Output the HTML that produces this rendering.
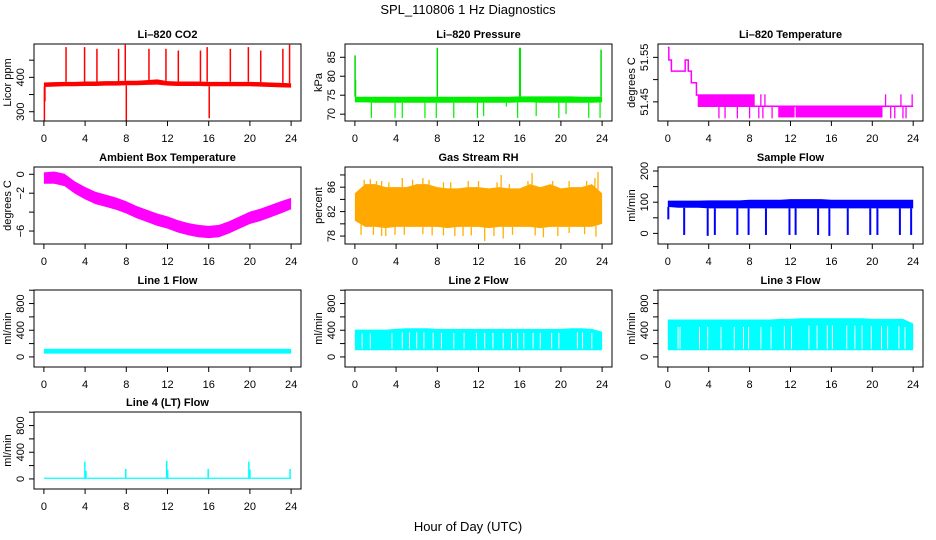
<!DOCTYPE html>
<html><head><meta charset="utf-8"><style>
html,body{margin:0;padding:0;background:#fff}
svg{display:block}
text{font-family:"Liberation Sans",sans-serif;fill:#000}
</style></head><body>
<svg id="chart" width="936" height="540" viewBox="0 0 936 540" xmlns="http://www.w3.org/2000/svg">
<defs></defs>
<text x="468" y="14" text-anchor="middle" font-size="13">SPL_110806  1 Hz Diagnostics</text>
<text x="468" y="531" text-anchor="middle" font-size="13">Hour of Day (UTC)</text>
</svg>
<script>
const hours = [0,1,2,3,4,5,6,7,8,9,10,11,12,13,14,15,16,17,18,19,20,21,22,23,24];
const xTicks = [0,4,8,12,16,20,24];
// CO2
const co2Lo = [372,373,374,374,375,375,376,376,377,377,378,379,376,375,375,375,374,374,374,374,374,373,372,371,370];
const co2Hi = [385,386,387,387,388,388,389,389,390,390,392,394,389,388,388,388,387,387,387,387,387,386,385,384,383];
const co2SpikeHours = [2.15,3.95,5.15,7.25,7.9,10.2,11.85,13.05,15.2,15.85,18.1,19.85,21.05,23.2,23.85];
const co2SpikeVals = [488,488,483,483,495,483,483,478,478,488,483,488,478,483,495];
const co2DipHours = [0.05,0.1,8.0,16.05];
const co2DipVals = [273,330,272,281];
// Pressure
const presLo = [73.1,73.1,73.0,73.0,73.0,73.0,73.0,73.0,73.0,73.0,73.0,73.0,73.0,73.0,73.0,73.0,73.1,73.1,73.0,73.0,73.0,73.0,73.0,73.0,73.1];
const presHi = [74.6,74.6,74.6,74.6,74.6,74.6,74.6,74.6,74.6,74.6,74.6,74.6,74.6,74.6,74.6,74.6,74.7,74.7,74.7,74.7,74.7,74.7,74.6,74.6,74.6];
const presSpikeHours = [0.02,0.06,8.0,16.0,16.05,23.9];
const presSpikeVals = [85.5,79,87.5,87.5,87.5,87];
const presDipHours = [1.6,3.9,4.6,6.8,7.9,9.6,11.9,12.5,14.7,15.8,17.6,19.8,20.5,22.7,23.8];
const presDipVals = [69,69,69,69,69,69,69,69.5,72,69,69.5,69,70,69,69];
// Li-820 temperature
const tempStepHours = [0,0.1,0.35,1.7,2.0,2.3,2.8,3.0];
const tempStepVals = [51.572,51.544,51.519,51.544,51.519,51.493,51.465,51.44];
const tempBandStart = [3.0,10.8,12.5];
const tempBandEnd = [8.5,12.4,21.0];
const tempBandLo = [51.439,51.415,51.415];
const tempBandHi = [51.467,51.439,51.439];
const tempSpikeHours = [5.0,5.6,6.8,8.0,8.9,9.1,9.3,9.5,10.2,21.3,21.8,22.2,22.8,23.0,23.3,23.9];
const tempSpikeVals = [51.413,51.413,51.413,51.413,51.413,51.467,51.413,51.467,51.413,51.467,51.413,51.413,51.467,51.413,51.413,51.467];
// Ambient box temperature
const ambCenter = [-0.4,-0.35,-0.6,-1.4,-2.0,-2.5,-2.8,-3.1,-3.5,-4.0,-4.4,-4.8,-5.1,-5.5,-5.8,-6.0,-6.1,-6.0,-5.6,-5.1,-4.6,-4.3,-3.9,-3.5,-3.1];
const ambHalf = [0.6,0.65,0.65,0.65,0.65,0.65,0.65,0.65,0.65,0.65,0.65,0.65,0.65,0.65,0.65,0.65,0.65,0.65,0.65,0.65,0.65,0.65,0.65,0.65,0.6];
// Gas stream RH
const rhLo = [80.5,79.5,79.5,79.3,79.5,79.5,79.5,79.5,79.5,79.3,79.5,79.5,79.5,79.3,79.5,79.5,79.5,79.5,79.3,79.5,79.5,79.5,79.5,79.5,80];
const rhHi = [85,86.5,86.5,86,86,86,86.5,86.5,86,85.8,85.8,86,86,85.8,86,85.8,85.8,86.5,86,86.5,85.8,86,86,86.5,85];
const rhSpikeHours = [0.9,1.5,2.1,2.6,3.3,4.6,5.6,6.6,7.2,8.6,9.3,11.0,12.0,13.8,14.2,15.0,16.8,17.2,19.2,20.8,22.5,23.3,23.6];
const rhSpikeVals = [87.2,87.3,87,87,86.8,87.5,87.2,87.5,87.2,86.8,86.8,87,87,86.8,88,86.5,87,88.3,87,87,87,87.5,88.5];
const rhDipHours = [0.6,1.8,2.6,3.0,3.9,4.8,6.6,7.5,8.6,9.7,10.5,11.3,12.6,13.5,14.4,15.3,17.5,18.3,19.7,20.8,22.3,23.4];
const rhDipVals = [78.2,78.2,78,78,78.2,78.2,78.3,78.1,78.1,78,78,78.1,77.2,78,77.6,78.2,78.1,77.8,78,78.5,78.3,77.9];
// Sample flow
const sfLo = [85,82,82,82,80,80,80,80,80,80,80,80,80,80,80,80,80,80,80,80,80,80,80,80,80];
const sfHi = [105,105,105,105,106,106,106,106,108,108,108,108,110,110,110,110,108,108,108,108,108,108,108,108,108];
const sfDipHours = [0.05,1.6,3.9,4.6,6.8,7.9,9.6,11.9,12.5,14.7,15.8,17.6,19.8,20.5,22.7,23.8];
const sfDipVals = [45,-5,-8,-5,-5,-5,-5,-5,-5,-5,-8,-5,-5,-5,-5,-5];
// Line flows
const l1Lo = [50,50,50,50,50,50,50,50,50,50,50,50,50,50,50,50,50,50,50,50,50,50,50,50,50];
const l1Hi = [120,120,120,120,120,120,120,120,120,120,120,120,120,120,120,120,120,120,120,120,120,120,120,120,120];
const l2Lo = [100,100,100,100,100,100,100,100,100,100,100,100,100,100,100,100,100,100,100,100,100,100,100,100,100];
const l2Hi = [410,410,410,410,420,430,430,430,420,420,420,420,420,420,420,420,420,420,420,420,420,430,430,420,380];
const l2GapHours = [0.7,1.5,3.6,4.6,5.3,6.0,6.7,7.6,8.4,9.6,10.6,11.8,12.6,13.4,14.4,15.2,15.8,16.4,17.3,18.0,19.1,19.8,21.6,22.1,23.0];
const l3Lo = [100,100,100,100,100,100,100,100,100,100,100,100,100,100,100,100,100,100,100,100,100,100,100,100,100];
const l3Hi = [560,560,560,560,560,560,560,560,560,560,560,570,570,580,580,580,580,580,580,580,570,570,570,570,500];
const l3GapHours = [1.0,1.2,3.1,3.9,5.2,6.5,7.4,7.9,9.1,10.1,11.4,12.1,13.8,14.6,15.6,16.1,17.5,18.3,19.0,19.9,20.9,21.5,22.6,23.2];
const l4SpikeHours = [3.98,4.08,7.95,11.92,12.02,15.95,19.9,20.0,23.9];
const l4SpikeVals = [260,120,150,270,140,150,260,140,150];

const svg = document.getElementById('chart');
const NS = 'http://www.w3.org/2000/svg';
function mk(tag, attrs, parent){ const e=document.createElementNS(NS,tag); for(const k in attrs) e.setAttribute(k,attrs[k]); (parent||svg).appendChild(e); return e; }

const colL = [34,345,658], colR = [301,612,923];
const rowT = [44,167,290,412], H = 77;
const X0 = -0.96, X1 = 24.96;

function panel(col,row,ylim,yticks,ylabels,ytitle,title,name){
  const L=colL[col], R=colR[col], T=rowT[row], B=T+H;
  const g=mk('g',{});
  
  
  const p={g,L,R,T,B,
    x:v=>L+(v-X0)/(X1-X0)*(R-L),
    y:v=>B-(v-ylim[0])/(ylim[1]-ylim[0])*(B-T)};
  const data=mk('g',{'clip-path':'url(#clip-'+name+')'},g);
  const cp=mk('clipPath',{id:'clip-'+name},svg.querySelector('defs'));
  mk('rect',{x:L,y:T,width:R-L,height:H},cp);
  p.d=data;
  p.finish=function(){
    const bx=mk('rect',{x:L,y:T,width:R-L,height:H,fill:'none',stroke:'#000','stroke-width':1},g);
    
    
    const t=mk('text',{x:(L+R)/2,y:T-6,'text-anchor':'middle','font-size':11,'font-weight':'bold'},g);
    t.textContent=title;
    
    
    const xa=mk('g',{},g);
    
    
    xTicks.forEach(v=>{
      const xx=p.x(v);
      mk('line',{x1:xx,x2:xx,y1:B,y2:B+5,stroke:'#000'},xa);
      const tl=mk('text',{x:xx,y:B+21,'text-anchor':'middle','font-size':11},xa);
      tl.textContent=v;
    });
    const ya=mk('g',{},g);
    
    
    yticks.forEach((v,i)=>{
      const yy=p.y(v);
      mk('line',{x1:L,x2:L-5,y1:yy,y2:yy,stroke:'#000'},ya);
      if(ylabels[i]!==''){
        const tl=mk('text',{x:L-10,y:yy,'text-anchor':'middle','font-size':11,transform:'rotate(-90 '+(L-10)+' '+yy+')'},ya);
        tl.textContent=ylabels[i];
      }
    });
    const yt=mk('text',{x:L-23,y:(T+B)/2,'text-anchor':'middle','font-size':11,transform:'rotate(-90 '+(L-23)+' '+((T+B)/2)+')'},g);
    yt.textContent=ytitle;
    
    
  };
  return p;
}
function band(p,xs,lo,hi,fill,name){
  let pts=xs.map((h,i)=>p.x(h)+','+p.y(hi[i]));
  for(let i=xs.length-1;i>=0;i--) pts.push(p.x(xs[i])+','+p.y(lo[i]));
  const e=mk('polygon',{points:pts.join(' '),fill:fill},p.d);
  
  
}
function valAt(arr,h){ const i=Math.min(23,Math.floor(h)); const f=h-i; return arr[i]*(1-f)+arr[i+1]*f; }
function spikes(p,hs,from,to,color,w,name){
  hs.forEach((h,i)=>{
    const f=typeof from==='function'?from(h):from;
    const e=mk('line',{x1:p.x(h),x2:p.x(h),y1:p.y(f),y2:p.y(to[i]),stroke:color,'stroke-width':w},p.d);
    
    
  });
}
const flowTicks=[0,200,400,600,800,1000], flowLabels=['0','','400','','800',''];

let p=panel(0,0,[273,497],[300,350,400,450],['300','','400',''],'Licor ppm','Li\u2013820 CO2','co2');
band(p,hours,co2Lo,co2Hi,'#ff0000','co2-band');
spikes(p,co2SpikeHours,h=>valAt(co2Hi,h),co2SpikeVals,'#ff0000',1.5,'co2-spike');
spikes(p,co2DipHours,h=>valAt(co2Lo,h),co2DipVals,'#ff0000',1.5,'co2-dip');
p.finish();

p=panel(1,0,[68.2,88.5],[70,75,80,85],['70','75','80','85'],'kPa','Li\u2013820 Pressure','pressure');
band(p,hours,presLo,presHi,'#00ee00','pressure-band');
spikes(p,presSpikeHours,h=>valAt(presHi,h),presSpikeVals,'#00dd00',1.5,'pressure-spike');
spikes(p,presDipHours,h=>valAt(presLo,h),presDipVals,'#00ee00',1.2,'pressure-dip');
p.finish();

p=panel(2,0,[51.407,51.58],[51.45,51.5,51.55],['51.45','','51.55'],'degrees C','Li\u2013820 Temperature','li820-temp');
{
  let d='';
  tempStepHours.forEach((h,i)=>{
    const nx=i+1<tempStepHours.length?tempStepHours[i+1]:24;
    d+=(i===0?'M':'L')+p.x(h)+' '+p.y(tempStepVals[i])+' L'+p.x(nx)+' '+p.y(tempStepVals[i]);
  });
  const e=mk('path',{d:d,fill:'none',stroke:'#ff00ff','stroke-width':1.5},p.d);
  
  
  tempBandStart.forEach((s,i)=>{
    const r=mk('rect',{x:p.x(s),y:p.y(tempBandHi[i]),width:p.x(tempBandEnd[i])-p.x(s),height:p.y(tempBandLo[i])-p.y(tempBandHi[i]),fill:'#ff00ff'},p.d);
    
    
  });
  spikes(p,tempSpikeHours,51.44,tempSpikeVals,'#ff00ff',1.3,'li820-temp-spike');
}
p.finish();

p=panel(0,1,[-7.37,0.77],[0,-2,-4,-6],['0','\u22122','','\u22126'],'degrees C','Ambient Box Temperature','ambient-temp');
band(p,hours,ambCenter.map((c,i)=>c-ambHalf[i]),ambCenter.map((c,i)=>c+ambHalf[i]),'#ff00ff','ambient-temp-band');
p.finish();

p=panel(1,1,[76.7,89.3],[78,80,82,84,86,88],['78','','82','','86',''],'percent','Gas Stream RH','rh');
band(p,hours,rhLo,rhHi,'#ffa800','rh-band');
spikes(p,rhSpikeHours,h=>valAt(rhHi,h),rhSpikeVals,'#ffb000',1.3,'rh-spike');
spikes(p,rhDipHours,h=>valAt(rhLo,h),rhDipVals,'#ffb000',1.3,'rh-dip');
p.finish();

p=panel(2,1,[-34,212.8],[0,50,100,150,200],['0','','100','','200'],'ml/min','Sample Flow','sample-flow');
band(p,hours,sfLo,sfHi,'#0000ff','sample-flow-band');
spikes(p,sfDipHours,h=>valAt(sfLo,h),sfDipVals,'#0000ff',2,'sample-flow-dip');
p.finish();

p=panel(0,2,[-151,1003],flowTicks,flowLabels,'ml/min','Line 1 Flow','line1-flow');
band(p,hours,l1Lo,l1Hi,'#00ffff','line1-flow-band');
p.finish();

p=panel(1,2,[-151,1003],flowTicks,flowLabels,'ml/min','Line 2 Flow','line2-flow');
band(p,hours,l2Lo,l2Hi,'#00ffff','line2-flow-band');
spikes(p,l2GapHours,h=>valAt(l2Lo,h)+25,l2GapHours.map(h=>valAt(l2Hi,h)-60),'#ffffff',1,'line2-flow-gap');
p.finish();

p=panel(2,2,[-151,1003],flowTicks,flowLabels,'ml/min','Line 3 Flow','line3-flow');
band(p,hours,l3Lo,l3Hi,'#00ffff','line3-flow-band');
spikes(p,l3GapHours,h=>valAt(l3Lo,h)+20,l3GapHours.map(h=>valAt(l3Hi,h)-110),'#ffffff',1,'line3-flow-gap');
p.finish();

p=panel(0,3,[-151,1003],flowTicks,flowLabels,'ml/min','Line 4 (LT) Flow','line4-flow');
band(p,hours,hours.map(()=>0),hours.map(()=>20),'#00ffff','line4-flow-band');
spikes(p,l4SpikeHours,10,l4SpikeVals,'#00ffff',1.5,'line4-flow-spike');
p.finish();
</script>
</body></html>
